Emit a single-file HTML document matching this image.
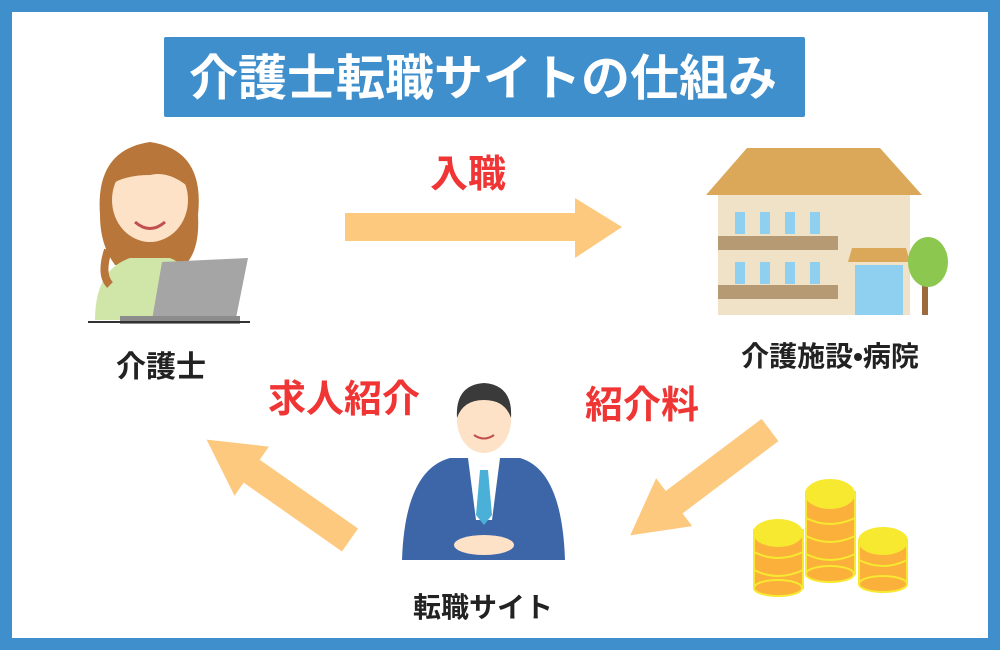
<!DOCTYPE html>
<html><head><meta charset="utf-8"><style>
body{margin:0;width:1000px;height:650px;overflow:hidden;background:#fff}
svg{display:block}
text{font-family:"Liberation Sans","Noto Sans CJK JP",sans-serif;font-weight:bold}
</style></head><body>
<svg width="1000" height="650" viewBox="0 0 1000 650">
<rect x="0" y="0" width="1000" height="650" fill="#3f8fcc"/>
<rect x="12" y="12" width="976" height="626" fill="#fff"/>
<rect x="164" y="37" width="641" height="80" rx="2" fill="#3f8fcc"/>
<text x="483" y="95" font-size="49" fill="#fff" text-anchor="middle">介護士転職サイトの仕組み</text>

<!-- arrows -->
<polygon points="345,213 575,213 575,198 622,227 575,258 575,241 345,241" fill="#fdc97e"/>
<g transform="translate(350,540) rotate(-145)"><polygon points="0,-14 120,-14 120,-30 175,0 120,30 120,14 0,14" fill="#fdc97e"/></g>
<g transform="translate(770,430) rotate(143)"><polygon points="0,-14 120,-14 120,-30 175,0 120,30 120,14 0,14" fill="#fdc97e"/></g>

<!-- labels -->
<text x="468" y="187" font-size="38" fill="#f03535" text-anchor="middle">入職</text>
<text x="344" y="412" font-size="38" fill="#f03535" text-anchor="middle">求人紹介</text>
<text x="642" y="418" font-size="38" fill="#f03535" text-anchor="middle">紹介料</text>
<text x="161" y="377" font-size="30" fill="#222" text-anchor="middle">介護士</text>
<text x="830" y="366" font-size="28" fill="#222" text-anchor="middle">介護施設•病院</text>
<text x="483" y="617" font-size="28" fill="#222" text-anchor="middle">転職サイト</text>

<!-- caregiver -->
<path d="M100,215 Q95,150 150,142 Q205,150 198,215 Q200,250 185,265 L115,265 Q100,245 100,215Z" fill="#b8763a"/>
<path d="M95,320 Q95,270 130,258 L170,258 Q200,270 205,320Z" fill="#cfe6a8"/>
<ellipse cx="150" cy="200" rx="38" ry="42" fill="#fde2c8"/>
<path d="M110,185 Q120,150 150,152 Q185,155 192,190 Q170,170 150,175 Q125,175 110,185Z" fill="#b8763a"/>
<path d="M108,250 Q100,275 110,285" stroke="#b8763a" stroke-width="8" fill="none"/>
<path d="M135,222 Q150,235 165,222" stroke="#c0504d" stroke-width="3" fill="none"/>
<polygon points="162,262 248,258 236,318 152,320" fill="#a5a5a5"/>
<rect x="120" y="316" width="120" height="8" fill="#8c8c8c"/>
<line x1="88" y1="322" x2="250" y2="322" stroke="#333" stroke-width="2"/>

<!-- building -->
<polygon points="706,195 747,148 880,148 922,195" fill="#dba85a"/>
<rect x="718" y="195" width="192" height="120" fill="#efe2c6"/>
<rect x="718" y="236" width="120" height="14" fill="#b59a74"/>
<rect x="718" y="285" width="120" height="14" fill="#b59a74"/>
<g fill="#8fd0f0">
<rect x="735" y="212" width="10" height="22"/><rect x="760" y="212" width="10" height="22"/><rect x="785" y="212" width="10" height="22"/><rect x="810" y="212" width="10" height="22"/>
<rect x="735" y="262" width="10" height="22"/><rect x="760" y="262" width="10" height="22"/><rect x="785" y="262" width="10" height="22"/><rect x="810" y="262" width="10" height="22"/>
<rect x="855" y="265" width="48" height="50"/></g>
<polygon points="848,262 852,248 906,248 910,262" fill="#dba85a"/>
<rect x="922" y="270" width="6" height="45" fill="#9c6a3c"/>
<ellipse cx="928" cy="262" rx="20" ry="25" fill="#8cc850"/>

<!-- business man -->
<path d="M402,560 Q405,470 450,458 L520,458 Q562,470 565,560Z" fill="#3d66a8"/>
<polygon points="468,458 500,458 492,520 476,520" fill="#fff"/>
<polygon points="480,470 488,470 492,515 484,525 476,515" fill="#4bb0d8"/>
<ellipse cx="484" cy="420" rx="27" ry="33" fill="#fde2c8"/>
<path d="M457,418 Q455,385 484,383 Q513,385 511,418 Q505,400 484,400 Q463,400 457,418Z" fill="#3a3a3a"/>
<path d="M474,435 Q484,442 494,435" stroke="#c0504d" stroke-width="2" fill="none"/>
<ellipse cx="484" cy="545" rx="30" ry="10" fill="#fde2c8"/>

<!-- coins -->
<g stroke="#f7e830" stroke-width="2">
<rect x="754" y="530" width="49" height="58" fill="#fbb03b"/>
<ellipse cx="778" cy="588" rx="24" ry="8" fill="#fbb03b"/>
<ellipse cx="778" cy="533" rx="24" ry="13" fill="#f7e830"/>
<rect x="806" y="492" width="49" height="82" fill="#fbb03b"/>
<ellipse cx="830" cy="574" rx="24" ry="8" fill="#fbb03b"/>
<ellipse cx="830" cy="494" rx="24" ry="14" fill="#f7e830"/>
<rect x="859" y="542" width="48" height="42" fill="#fbb03b"/>
<ellipse cx="883" cy="584" rx="24" ry="8" fill="#fbb03b"/>
<ellipse cx="883" cy="541" rx="24" ry="13" fill="#f7e830"/>
</g>
<g stroke="#f7e830" stroke-width="2" fill="none">
<path d="M754,552 Q778,564 803,552M754,570 Q778,582 803,570"/>
<path d="M806,518 Q830,530 855,518M806,536 Q830,548 855,536M806,554 Q830,566 855,554"/>
<path d="M859,560 Q883,572 907,560"/>
</g>
</svg>
</body></html>
